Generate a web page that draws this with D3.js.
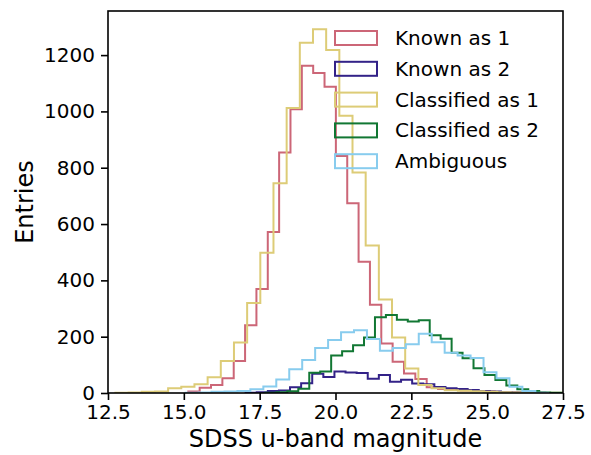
<!DOCTYPE html>
<html>
<head>
<meta charset="utf-8">
<script src="https://cdn.jsdelivr.net/npm/d3@7"></script>
<style>
  html, body { margin: 0; padding: 0; background: #ffffff; }
  svg { display: block; font-family: "DejaVu Sans", sans-serif; }
</style>
</head>
<body>
<svg id="chart" width="591" height="455"></svg>
<script>
// ---- data ----
const seriesNames = ["Known as 1", "Known as 2", "Classified as 1", "Classified as 2", "Ambiguous"];

// each histogram: first bin edge, bin width (magnitudes), counts per bin
const knownAs1Start = 15.148;
const knownAs1Width = 0.3742;
const knownAs1Counts = [5, 19, 28, 52, 114, 241, 369, 572, 854, 1008, 1162, 1136, 1088, 842, 674, 466, 313, 176, 111, 69, 50, 20, 14, 11, 9, 7, 5, 3, 2, 1, 1];

const knownAs2Start = 17.037;
const knownAs2Width = 0.366;
const knownAs2Counts = [1, 3, 7, 9, 20, 35, 68, 57, 76, 73, 71, 51, 64, 40, 47, 34, 31, 21, 17, 14, 11, 7, 5, 3, 2, 2, 1];

const classifiedAs1Start = 12.745;
const classifiedAs1Width = 0.4342;
const classifiedAs1Counts = [1, 2, 4, 5, 17, 22, 31, 56, 114, 179, 320, 498, 745, 1012, 1244, 1292, 1218, 985, 783, 524, 332, 197, 87, 28, 17, 10, 8, 6, 4, 3, 2, 2, 1, 1, 1];

const classifiedAs2Start = 17.691;
const classifiedAs2Width = 0.361;
const classifiedAs2Counts = [1, 3, 6, 15, 72, 76, 133, 148, 170, 197, 269, 277, 260, 254, 258, 205, 193, 143, 123, 88, 64, 46, 27, 13, 7, 2, 1];

const ambiguousStart = 15.059;
const ambiguousWidth = 0.427;
const ambiguousCounts = [1, 2, 4, 5, 7, 13, 23, 48, 84, 117, 160, 188, 216, 223, 192, 150, 160, 173, 210, 180, 143, 133, 124, 74, 52, 22, 7, 1];

const xTicks = [12.5, 15.0, 17.5, 20.0, 22.5, 25.0, 27.5];
const yTicks = [0, 200, 400, 600, 800, 1000, 1200];
const xDomain = [12.5, 27.5];
const xLabel = "SDSS u-band magnitude";
const yLabel = "Entries";

// ---- build ----
const series = [
  { name: seriesNames[0], start: knownAs1Start, width: knownAs1Width, counts: knownAs1Counts },
  { name: seriesNames[1], start: knownAs2Start, width: knownAs2Width, counts: knownAs2Counts },
  { name: seriesNames[2], start: classifiedAs1Start, width: classifiedAs1Width, counts: classifiedAs1Counts },
  { name: seriesNames[3], start: classifiedAs2Start, width: classifiedAs2Width, counts: classifiedAs2Counts },
  { name: seriesNames[4], start: ambiguousStart, width: ambiguousWidth, counts: ambiguousCounts }
];
const colors = ["#CC6677", "#332288", "#DDCC77", "#117733", "#88CCEE"];

const W = 591, H = 455;
const margin = { left: 108, right: 28, top: 11, bottom: 62 };
const iw = W - margin.left - margin.right;
const ih = H - margin.top - margin.bottom;

const maxCount = d3.max(series, s => d3.max(s.counts));
const x = d3.scaleLinear().domain(xDomain).range([0, iw]);
const y = d3.scaleLinear().domain([0, maxCount * 1.05]).range([ih, 0]);

const svg = d3.select("#chart");
svg.append("rect").attr("width", W).attr("height", H).attr("fill", "#fff");
const g = svg.append("g").attr("transform", `translate(${margin.left},${margin.top})`);

g.append("clipPath").attr("id", "clip").append("rect").attr("width", iw).attr("height", ih);

function stepPoints(s) {
  const pts = [[s.start, 0]];
  s.counts.forEach((c, i) => {
    pts.push([s.start + i * s.width, c]);
    pts.push([s.start + (i + 1) * s.width, c]);
  });
  pts.push([s.start + s.counts.length * s.width, 0]);
  return pts;
}
const line = d3.line().x(d => x(d[0])).y(d => y(d[1]));

const plot = g.append("g").attr("clip-path", "url(#clip)");
series.forEach((s, i) => {
  plot.append("path")
    .attr("d", line(stepPoints(s)))
    .attr("fill", "none")
    .attr("stroke", colors[i])
    .attr("stroke-width", 2)
    .attr("stroke-linejoin", "miter");
});

// axes
const xAxis = g.append("g").attr("transform", `translate(0,${ih})`)
  .call(d3.axisBottom(x).tickValues(xTicks).tickFormat(d3.format(".1f")).tickSize(7).tickPadding(5).tickSizeOuter(0));
const yAxis = g.append("g")
  .call(d3.axisLeft(y).tickValues(yTicks).tickFormat(d3.format("d")).tickSize(7).tickPadding(6).tickSizeOuter(0));
[xAxis, yAxis].forEach(a => {
  a.select(".domain").remove();
  a.selectAll("line").attr("stroke", "#000").attr("stroke-width", 1.6);
  a.selectAll("text").attr("fill", "#000").style("font-size", "20px").style("font-family", "DejaVu Sans");
});
// spines (full frame)
g.append("rect").attr("width", iw).attr("height", ih)
  .attr("fill", "none").attr("stroke", "#000").attr("stroke-width", 1.6);

// axis labels
svg.append("text").attr("x", margin.left + iw / 2).attr("y", 447)
  .attr("text-anchor", "middle").style("font-size", "24px").attr("fill", "#000").text(xLabel);
svg.append("text").attr("transform", `translate(33,${margin.top + ih / 2}) rotate(-90)`)
  .attr("text-anchor", "middle").style("font-size", "24px").attr("fill", "#000").text(yLabel);

// legend
const leg = svg.append("g").attr("transform", "translate(335,38)");
series.forEach((s, i) => {
  const row = leg.append("g").attr("transform", `translate(0,${i * 30.8})`);
  row.append("rect").attr("x", 0).attr("y", -7).attr("width", 42).attr("height", 14)
    .attr("fill", "none").attr("stroke", colors[i]).attr("stroke-width", 2);
  row.append("text").attr("x", 60).attr("y", 7).style("font-size", "20px").attr("fill", "#000").text(s.name);
});
</script>
</body>
</html>
